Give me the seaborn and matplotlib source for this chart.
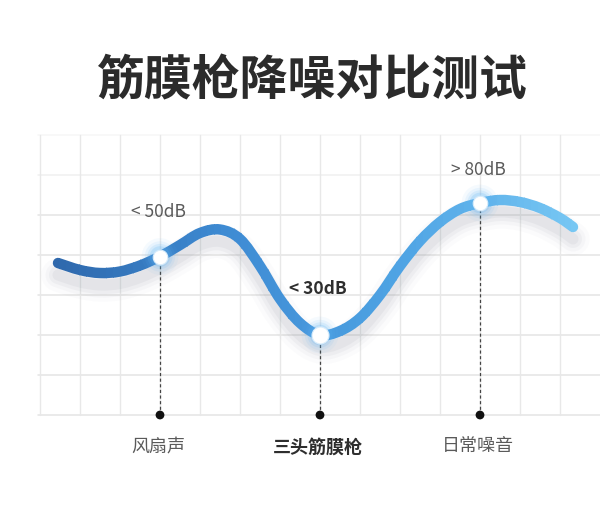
import numpy as np
import pandas as pd
import matplotlib
matplotlib.use("Agg")
import matplotlib.pyplot as plt
import seaborn as sns
from matplotlib.path import Path
from matplotlib.patches import PathPatch, Rectangle
from matplotlib.colors import LinearSegmentedColormap

# ---- data ----
title = "筋膜枪降噪对比测试"
categories = ["风扇声", "三头筋膜枪", "日常噪音"]
cat_x = [4, 8, 12]
point_y = [3.9625, 2.0, 5.3]
value_labels = ["< 50dB", "< 30dB", "> 80dB"]

curve_x = [1.45, 2.0, 2.5, 3.0, 3.5, 4.0, 4.5, 5.0, 5.5, 6.0, 6.5, 7.0, 7.5, 8.0,
           8.5, 9.0, 9.5, 10.0, 10.5, 11.0, 11.5, 12.0, 12.5, 13.0, 13.5, 14.0, 14.325]
curve_y = [3.80, 3.625, 3.55, 3.5875, 3.7375, 3.9625, 4.25, 4.55, 4.6375, 4.40, 3.725,
           2.90, 2.30, 2.0, 2.10, 2.425, 3.0, 3.725, 4.35, 4.825, 5.15, 5.30, 5.375,
           5.325, 5.175, 4.925, 4.70]

sns.set_theme(style="white")
plt.rcParams['font.family'] = ['Noto Sans CJK SC', 'DejaVu Sans']

fig = plt.figure(figsize=(6, 5.08), dpi=100)
ax = fig.add_axes([0, 0, 1, 1])
ax.set_xlim(0, 15)
ax.set_ylim(-2.325, 10.375)
ax.axis("off")

# grid
for yy in range(0, 8):
    a = 1.0 if yy <= 5 else (0.55 if yy == 6 else 0.3)
    ax.plot([0.95, 15], [yy, yy], color="#e4e4e4", lw=1.1, alpha=a, zorder=0)
for xx in range(1, 15):
    ax.plot([xx, xx], [0, 7], color="#e8e8e8", lw=1.0, zorder=0)


def smooth_path(xs, ys, dy=0.0):
    """Bezier path passing through the given points (Catmull-Rom tangents)."""
    p = np.column_stack([xs, np.asarray(ys) + dy])
    verts = [p[0]]
    codes = [Path.MOVETO]
    n = len(p)
    for i in range(n - 1):
        p0 = p[i - 1] if i > 0 else p[i]
        p1, p2 = p[i], p[i + 1]
        p3 = p[i + 2] if i + 2 < n else p[i + 1]
        c1 = p1 + (p2 - p0) / 6.0
        c2 = p2 - (p3 - p1) / 6.0
        verts += [c1, c2, p2]
        codes += [Path.CURVE4] * 3
    return Path(np.array(verts), codes)


# shadow
for lw, al in [(24, 0.025), (18, 0.04), (13, 0.06), (8, 0.07)]:
    ax.add_patch(PathPatch(smooth_path(curve_x, curve_y, -0.3), fill=False,
                           edgecolor="#6f7a8c", lw=lw, alpha=al, capstyle="round",
                           joinstyle="round", zorder=1))

# dashed drop lines and bottom dots
for x, y in zip(cat_x, point_y):
    ax.plot([x, x], [0, y], color="#444444", lw=0.9, ls=(0, (2.5, 2)), zorder=2)
sns.scatterplot(x=cat_x, y=[0, 0, 0], ax=ax, color="#111111", s=40, edgecolor="none", zorder=4)

# gradient curve: same path drawn in narrow vertical strips
cmap = LinearSegmentedColormap.from_list("b", ["#2e67ab", "#3e8bd3", "#4fa4e4", "#78c8f4"])
main_path = smooth_path(curve_x, curve_y)
x0, x1 = curve_x[0] - 0.3, curve_x[-1] + 0.3
nstrip = 80
edges = np.linspace(x0, x1, nstrip + 1)
for i in range(nstrip):
    col = cmap(i / (nstrip - 1))
    pp = PathPatch(main_path, fill=False, edgecolor=col, lw=7.5, capstyle="round",
                   joinstyle="round", zorder=3)
    ax.add_patch(pp)
    r = Rectangle((edges[i] - 0.005, -5), edges[i + 1] - edges[i] + 0.01, 20,
                  transform=ax.transData, facecolor="none", edgecolor="none")
    pp.set_clip_path(r)

# glowing points
pt_df = pd.DataFrame({"x": cat_x, "y": point_y})
for s, al in [(700, 0.06), (480, 0.09), (330, 0.14), (220, 0.2)]:
    sns.scatterplot(data=pt_df, x="x", y="y", ax=ax, color="#5fb4f5", s=s, alpha=al,
                    edgecolor="none", zorder=5, legend=False)
sizes = [110, 150, 110]
for (px, py), s in zip(zip(cat_x, point_y), sizes):
    ax.scatter([px], [py], color="white", s=s, edgecolor="#d8ecfb", linewidth=0.8, zorder=6)

# texts
ax.text(7.8, 8.35, title, ha="center", va="center", fontsize=34.5, fontweight="bold", color="#2b2b2b")
label_pos = [(3.95, 5.075), (7.95, 3.15), (11.95, 6.125)]
for i, (lab, (lx, ly)) in enumerate(zip(value_labels, label_pos)):
    bold = i == 1
    ax.text(lx, ly, lab, ha="center", va="center", fontsize=12.5,
            fontweight="bold" if bold else "normal", color="#2e2e2e" if bold else "#5a5a5a")
for i, (c, x) in enumerate(zip(categories, cat_x)):
    bold = i == 1
    ax.text(x - 0.05, -0.8, c, ha="center", va="center", fontsize=13,
            fontweight="bold" if bold else "normal", color="#2e2e2e" if bold else "#5a5a5a")

fig.savefig("out.png", dpi=100, facecolor="white")
